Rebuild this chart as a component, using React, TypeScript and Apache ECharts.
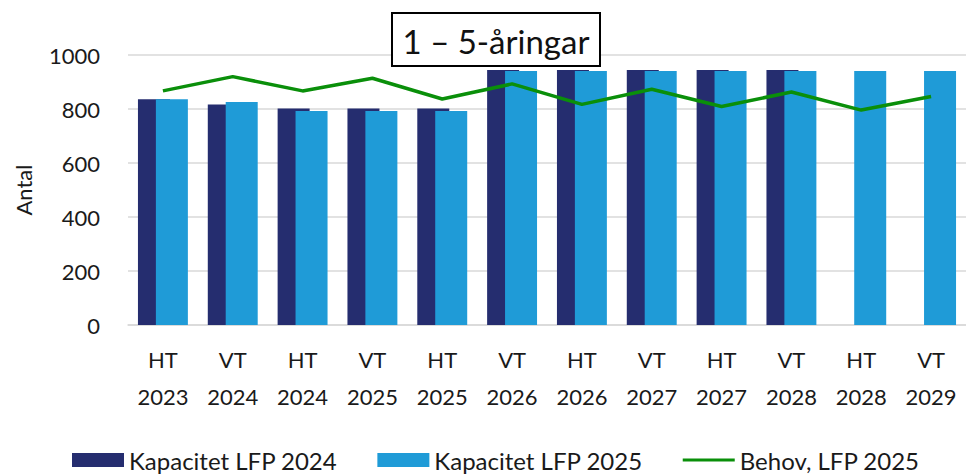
import React, { useEffect, useRef } from "react";
import * as echarts from "echarts";

const categories = ["HT\n2023", "VT\n2024", "HT\n2024", "VT\n2025", "HT\n2025", "VT\n2026", "HT\n2026", "VT\n2027", "HT\n2027", "VT\n2028", "HT\n2028", "VT\n2029"];
const kapacitet2024 = [836, 817, 802, 802, 802, 944, 944, 944, 944, 944, null, null];
const kapacitet2025 = [836, 826, 793, 793, 793, 941, 941, 941, 941, 941, 941, 941];
const behov2025 = [867, 920, 867, 914, 837, 893, 817, 873, 809, 863, 796, 846];
const yTicks = [0, 200, 400, 600, 800, 1000];

const FONT = "Lato";
const TXT = "#1a1a1a";

export default function App() {
  const ref = useRef<HTMLDivElement>(null);
  useEffect(() => {
    document.body.style.margin = "0";
    const chart = echarts.init(ref.current!, null, { renderer: "svg" });
    chart.setOption({
      animation: false,
      backgroundColor: "#ffffff",
      textStyle: { fontFamily: FONT },
      grid: { left: 128, right: -11, top: 55, bottom: 150 },
      graphic: [
        {
          type: "rect",
          shape: { x: 392, y: 13, width: 208, height: 53 },
          style: { fill: "#ffffff", stroke: "#000000", lineWidth: 2 },
          z: 100,
        },
        {
          type: "text",
          x: 496,
          y: 41,
          style: {
            text: "1 – 5-åringar",
            fontSize: 33,
            fontFamily: FONT,
            fill: "#111111",
            align: "center",
            verticalAlign: "middle",
          },
          z: 101,
        },
      ],
      legend: {
        left: 72,
        top: 448,
        padding: 0,
        itemWidth: 52,
        itemHeight: 14,
        itemGap: 40,
        textStyle: { fontSize: 24, color: TXT, fontFamily: FONT, lineHeight: 24 },
        data: [
          { name: "Kapacitet LFP 2024", icon: "rect" },
          { name: "Kapacitet LFP 2025", icon: "rect" },
          { name: "Behov, LFP 2025", icon: "path://M0,0 M0,14 M0,5.5 L52,5.5 L52,8.5 L0,8.5 Z" },
        ],
      },
      xAxis: {
        type: "category",
        data: categories,
        axisLine: { lineStyle: { color: "#d9d9d9", width: 1.5 } },
        axisTick: { show: false },
        axisLabel: {
          fontSize: 22,
          color: TXT,
          lineHeight: 37,
          margin: 16,
          interval: 0,
          fontFamily: FONT,
        },
      },
      yAxis: {
        type: "value",
        min: 0,
        max: 1000,
        interval: 200,
        name: "Antal",
        nameLocation: "middle",
        nameGap: 94,
        nameTextStyle: { fontSize: 22, color: TXT, fontFamily: FONT },
        axisLabel: {
          fontSize: 22,
          color: TXT,
          margin: 28,
          fontFamily: FONT,
          formatter: (v: number) => (yTicks.includes(v) ? String(v) : ""),
        },
        splitLine: { lineStyle: { color: "#d9d9d9", width: 1.5 } },
        axisLine: { show: false },
        axisTick: { show: false },
      },
      series: [
        {
          name: "Kapacitet LFP 2024",
          type: "bar",
          data: kapacitet2024,
          barWidth: 32,
          barGap: "-44%",
          itemStyle: { color: "#252d6f" },
        },
        {
          name: "Kapacitet LFP 2025",
          type: "bar",
          data: kapacitet2025,
          barWidth: 32,
          itemStyle: { color: "#1f9bd7" },
        },
        {
          name: "Behov, LFP 2025",
          type: "line",
          data: behov2025,
          symbol: "none",
          lineStyle: { color: "#0a8f0a", width: 3.5 },
          itemStyle: { color: "#0a8f0a" },
          z: 5,
        },
      ],
    });
    return () => chart.dispose();
  }, []);
  return <div ref={ref} style={{ width: 966, height: 475 }} />;
}
